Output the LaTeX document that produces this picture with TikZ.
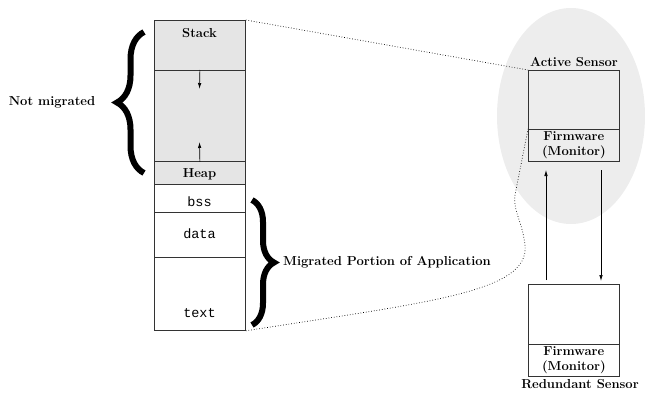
\documentclass[tikz,border=0pt]{standalone}
\usepackage{fontspec}
\setmonofont{Liberation Mono}
\usetikzlibrary{decorations.pathreplacing,arrows.meta}
\begin{document}
\begin{tikzpicture}[x=1pt,y=-1pt,
  seg/.style={draw=black!80, line width=0.8pt, minimum width=91pt, inner sep=0pt, anchor=north west},
  lbl/.style={font=\bfseries\fontsize{13}{14}\selectfont, inner sep=0pt},
  fwl/.style={font=\bfseries\fontsize{13}{15}\selectfont, inner sep=0pt, align=center},
  mono/.style={font=\ttfamily\fontsize{13.5}{14}\selectfont, inner sep=0pt},
  tip/.style={-{Latex[length=6pt,width=3.5pt]}, line width=0.7pt},
  bigbrace/.style={decorate, decoration={brace, amplitude=#1}, line width=6pt},
  dots/.style={dotted, line width=0.7pt},
]
\useasboundingbox (0,0) rectangle (645,394);
% active sensor area
\fill[gray!14] (571,116) ellipse [x radius=74pt, y radius=108pt];
% memory layout
\node[seg, fill=gray!20, minimum height=50pt] (stack) at (154,20) {};
\node[seg, fill=gray!20, minimum height=91pt] (gap) at (154,70) {};
\node[seg, fill=gray!20, minimum height=23pt] (heap) at (154,161) {};
\node[seg, minimum height=28pt] (bss) at (154,184) {};
\node[seg, minimum height=45pt] (data) at (154,212) {};
\node[seg, minimum height=73pt] (text) at (154,257) {};
\node[lbl] (stackl) at (199.5,33) {Stack};
\node[lbl] (heapl) at (199.5,174) {Heap};
\node[mono] (bssl) at (199.5,202) {bss};
\node[mono] (datal) at (199.5,234) {data};
\node[mono] (textl) at (199.5,313) {text};
\coordinate (sd) at (199.5,89);
\coordinate (hu) at (199.5,142);
\draw[tip] (gap.north) -- (sd);
\draw[tip] (gap.south) -- (hu);
% braces
\coordinate (lb1) at (144,173);
\coordinate (lb2) at (144,32);
\draw[bigbrace=27pt] (lb1) -- (lb2);
\node[lbl] (notmig) at (52,102) {Not migrated};
\coordinate (rb1) at (252,200);
\coordinate (rb2) at (252,325);
\draw[bigbrace=22pt] (rb1) -- (rb2);
\node[lbl, anchor=west] (mig) at (283,262) {Migrated Portion of Application};
% active sensor
\node[seg, minimum height=59pt] (act) at (528,70) {};
\node[seg, minimum height=32pt] (fw1) at (528,129) {};
\node[fwl] (fw1l) at (fw1.center) {Firmware\\(Monitor)};
\node[lbl] (actl) at (574,62) {Active Sensor};
% redundant sensor
\node[seg, minimum height=60pt] (red) at (528,284) {};
\node[seg, minimum height=32pt] (fw2) at (528,344) {};
\node[fwl] (fw2l) at (fw2.center) {Firmware\\(Monitor)};
\node[lbl] (redl) at (580,384) {Redundant Sensor};
% arrows between sensors
\coordinate (up1) at (546,280);
\coordinate (up2) at (546,170);
\coordinate (dn1) at (601,170);
\coordinate (dn2) at (601,281);
\draw[tip] (up1) -- (up2);
\draw[tip] (dn1) -- (dn2);
% dotted mapping lines
\draw[dots] (stack.north east) -- (act.north west);
\draw[dots] (text.south east) .. controls (430,302) and (530,292) .. (525,245)
  .. controls (522,220) and (513,212) .. (515,195) -- (fw1.north west);
\end{tikzpicture}
\end{document}
